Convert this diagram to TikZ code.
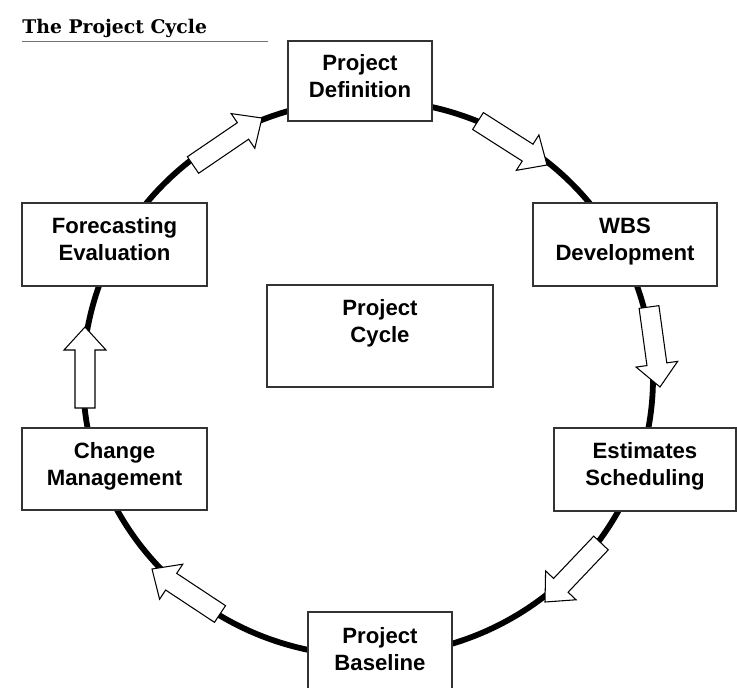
\documentclass[tikz,border=0pt]{standalone}
\usepackage{fontspec}
\setmainfont{Liberation Sans}
\newfontfamily\titlefont{DejaVu Serif}
\usetikzlibrary{calc}

% block arrow from #1 (tail) to #2 (tip)
\newcommand{\shaftw}{0.2cm}
\newcommand{\headw}{0.42cm}
\newcommand{\headlen}{0.46cm}
\newcommand{\blockarrow}[2]{%
  \coordinate (hb) at ($(#2)!\headlen!(#1)$);
  \draw[blockarr]
    ($(#1)!\shaftw!90:(#2)$) -- ($(hb)!\shaftw!-90:(#1)$) -- ($(hb)!\headw!-90:(#1)$)
    -- (#2) -- ($(hb)!\headw!90:(#1)$) -- ($(hb)!\shaftw!90:(#1)$) -- ($(#1)!\shaftw!-90:(#2)$) -- cycle;
}

\begin{document}
\begin{tikzpicture}[x=0.02cm, y=-0.02cm,
  stagetext/.style={align=center, inner sep=0pt, text height=24.3pt, text depth=6pt,
    font=\fontsize{12.6}{15.3}\selectfont\bfseries},
  stagebox/.style={stagetext, draw=black!80, line width=0.8pt, fill=white},
  blockarr/.style={draw=black, line width=0.6pt, fill=white, line join=miter}]

\useasboundingbox (0,0) rectangle (737,687);

%% ── title ────────────────────────────────────────────────────────
\node[anchor=base west, inner sep=0pt, font=\titlefont\fontsize{10.7}{13}\selectfont\bfseries] (title) at (22,33) {The Project Cycle};
\draw[black!55, line width=0.6pt] (22,41.5) -- (268,41.5);

%% ── ring ─────────────────────────────────────────────────────────
\draw[line width=3.3pt] (368,378) ellipse [x radius=285, y radius=278];

%% ── block arrows on the ring ─────────────────────────────────────
\foreach \tx/\ty/\hx/\hy in {193/165/262/118, 478/121/547/165, 649/307/660/387,
                             601/543/545/602, 220/614/152/569, 85/408/85/327}{
  \coordinate (tl) at (\tx,\ty);
  \coordinate (tp) at (\hx,\hy);
  \blockarrow{tl}{tp}
}

%% ── stage boxes ──────────────────────────────────────────────────
\node[stagebox, minimum width=2.88cm, minimum height=1.60cm] (definition) at (360,81)    {Project\\Definition};
\node[stagebox, minimum width=3.68cm, minimum height=1.66cm] (wbs)        at (625,244.5) {WBS\\Development};
\node[stagebox, minimum width=3.64cm, minimum height=1.66cm] (estimates)  at (645,469.5) {Estimates\\Scheduling};
\node[stagebox, minimum width=2.88cm, minimum height=1.68cm] (baseline)   at (380,654)   {Project\\Baseline};
\node[stagebox, minimum width=3.70cm, minimum height=1.64cm] (change)     at (114.5,469) {Change\\Management};
\node[stagebox, minimum width=3.70cm, minimum height=1.66cm] (forecast)   at (114.5,244.5) {Forecasting\\Evaluation};

%% ── centre box ───────────────────────────────────────────────────
\node[stagebox, minimum width=4.52cm, minimum height=2.04cm] (cycle) at (380,336) {};
\node[stagetext] (cycletext) at (380,326) {Project\\Cycle};

\end{tikzpicture}
\end{document}
